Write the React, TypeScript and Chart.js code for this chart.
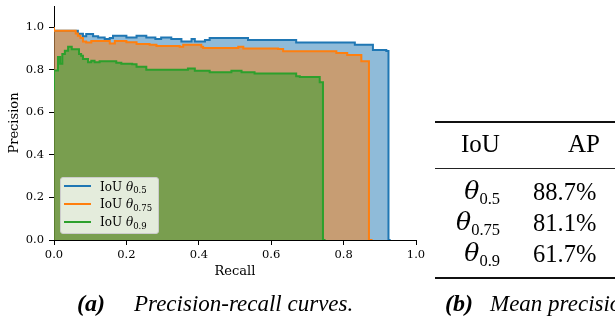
import React, { useEffect, useRef } from 'react';
import { Chart, registerables } from 'chart.js';

Chart.register(...registerables);

// ---- data ----
const seriesNames = ['0.5', '0.75', '0.9'];
const lineColors = ['#1f77b4', '#ff7f0e', '#2ca02c'];
const fillColors = ['rgba(31,119,180,0.5)', 'rgba(255,127,14,0.5)', 'rgba(44,160,44,0.5)'];

const recall50 = [0, 0.066, 0.08, 0.089, 0.108, 0.122, 0.14, 0.154, 0.163, 0.2, 0.228, 0.255, 0.28, 0.296, 0.324, 0.352, 0.38, 0.389, 0.417, 0.43, 0.536, 0.669, 0.831, 0.881, 0.918, 0.924, 0.93];
const precision50 = [1.0, 0.984, 0.97, 0.958, 0.968, 0.958, 0.952, 0.945, 0.95, 0.96, 0.952, 0.96, 0.952, 0.945, 0.952, 0.945, 0.933, 0.945, 0.933, 0.94, 0.95, 0.94, 0.929, 0.918, 0.893, 0.888, 0];

const recall75 = [0, 0.06, 0.066, 0.073, 0.08, 0.089, 0.103, 0.154, 0.168, 0.2, 0.228, 0.264, 0.283, 0.347, 0.357, 0.407, 0.412, 0.509, 0.523, 0.619, 0.633, 0.78, 0.81, 0.849, 0.87, 0.88];
const precision75 = [1.0, 0.984, 0.971, 0.96, 0.949, 0.933, 0.929, 0.936, 0.924, 0.936, 0.93, 0.921, 0.918, 0.912, 0.909, 0.918, 0.909, 0.902, 0.909, 0.9, 0.898, 0.887, 0.879, 0.87, 0.84, 0];

const recall90 = [0, 0.011, 0.017, 0.023, 0.03, 0.039, 0.049, 0.069, 0.075, 0.08, 0.094, 0.103, 0.112, 0.126, 0.172, 0.186, 0.216, 0.228, 0.255, 0.37, 0.389, 0.43, 0.49, 0.518, 0.554, 0.669, 0.679, 0.734, 0.743, 0.75];
const precision90 = [0.703, 0.797, 0.86, 0.828, 0.874, 0.89, 0.908, 0.897, 0.874, 0.866, 0.851, 0.836, 0.843, 0.836, 0.84, 0.833, 0.828, 0.826, 0.815, 0.8, 0.806, 0.796, 0.789, 0.796, 0.789, 0.783, 0.77, 0.766, 0.741, 0];

const xTickValues = [0, 0.2, 0.4, 0.6, 0.8, 1.0];
const yTickValues = [0, 0.2, 0.4, 0.6, 0.8, 1.0];

const tableHeader = ['IoU', 'AP'];
const apValues = ['88.7%', '81.1%', '61.7%'];

const recalls = [recall50, recall75, recall90];
const precisions = [precision50, precision75, precision90];

const SERIF = 'Liberation Serif';
const DJ = 'DejaVu Serif';

export default function App() {
  const ref = useRef<HTMLCanvasElement>(null);

  useEffect(() => {
    const canvas = ref.current!;
    const tickFont = { family: DJ, size: 11.5 };
    const labelFont = { family: DJ, size: 13 };
    const datasets = seriesNames.map((name, i) => ({
      label: 'IoU θ' + name,
      data: recalls[i].map((x, j) => ({ x, y: precisions[i][j] })),
      borderColor: lineColors[i],
      backgroundColor: fillColors[i],
      borderWidth: 2,
      pointRadius: 0,
      stepped: 'after' as const,
      fill: 'origin',
      order: 3 - i,
    }));
    const chart = new Chart(canvas, {
      type: 'line',
      data: { datasets },
      options: {
        responsive: false,
        animation: false,
        layout: { padding: { left: 0, top: 6, right: 199, bottom: 0 } },
        plugins: { legend: { display: false }, tooltip: { enabled: false } },
        scales: {
          x: {
            type: 'linear',
            min: 0,
            max: 1,
            afterBuildTicks: (s: any) => { s.ticks = xTickValues.map((v) => ({ value: v })); },
            afterFit: (s: any) => { s.height = 80; s.paddingLeft = 0; s.paddingRight = 0; },
            ticks: { font: tickFont, color: '#000', padding: 3, maxRotation: 0, autoSkip: false, callback: (v: any) => Number(v).toFixed(1) },
            grid: { display: true, drawOnChartArea: false, drawTicks: true, tickLength: 5, color: '#000', tickColor: '#000', lineWidth: 1 },
            border: { display: true, color: '#000', width: 1 },
            title: { display: true, text: 'Recall', font: labelFont, color: '#000', padding: { top: 0, bottom: 41 } },
          },
          y: {
            type: 'linear',
            min: 0,
            max: 1.1,
            afterBuildTicks: (s: any) => { s.ticks = yTickValues.map((v) => ({ value: v })); },
            afterFit: (s: any) => { s.width = 54; s.paddingTop = 0; s.paddingBottom = 0; },
            ticks: { font: tickFont, color: '#000', padding: 5, autoSkip: false, callback: (v: any) => Number(v).toFixed(1) },
            grid: { display: true, drawOnChartArea: false, drawTicks: true, tickLength: 5, color: '#000', tickColor: '#000', lineWidth: 1 },
            border: { display: true, color: '#000', width: 1 },
            title: { display: true, text: 'Precision', font: labelFont, color: '#000', padding: { top: 6.7, bottom: 0 } },
          },
        },
      } as any,
    });
    return () => chart.destroy();
  }, []);

  const legendLineY = [186, 203.5, 221.5];
  const rowBase = [200, 231, 262];

  return (
    <div style={{ position: 'absolute', left: 0, top: 0, width: 615, height: 320, background: '#fff', overflow: 'hidden' }}>
      <canvas ref={ref} width={615} height={320} style={{ position: 'absolute', left: 0, top: 0 }} />

      {/* legend */}
      <div style={{ position: 'absolute', left: 60, top: 177, width: 97, height: 55, background: 'rgba(255,255,255,0.8)', border: '1px solid #cccccc', borderRadius: 3 }} />
      {seriesNames.map((name, i) => (
        <React.Fragment key={name}>
          <div style={{ position: 'absolute', left: 64, top: legendLineY[i] - 1, width: 27, height: 2, background: lineColors[i] }} />
          <div style={{ position: 'absolute', left: 100, top: legendLineY[i] + 4.7 - 10.1, fontFamily: DJ, fontSize: 12, lineHeight: 1, whiteSpace: 'nowrap', color: '#000' }}>
            IoU <span style={{ fontStyle: 'italic' }}>θ</span>
            <span style={{ fontSize: 8.5, position: 'relative', top: 2.5 }}>{name}</span>
          </div>
        </React.Fragment>
      ))}

      {/* table */}
      <div style={{ position: 'absolute', left: 435, top: 121, width: 200, height: 2, background: '#111' }} />
      <div style={{ position: 'absolute', left: 461, top: 152.3 - 21, fontFamily: SERIF, fontSize: 25, lineHeight: 1, color: '#000' }}>{tableHeader[0]}</div>
      <div style={{ position: 'absolute', left: 568, top: 152.3 - 21, fontFamily: SERIF, fontSize: 25, lineHeight: 1, color: '#000' }}>{tableHeader[1]}</div>
      <div style={{ position: 'absolute', left: 435, top: 168, width: 200, height: 1, background: '#222' }} />
      {seriesNames.map((name, i) => (
        <React.Fragment key={'r' + name}>
          <div style={{ position: 'absolute', left: 0, width: 500, textAlign: 'right', top: rowBase[i] - 21.8, fontFamily: SERIF, fontSize: 26, lineHeight: 1, whiteSpace: 'nowrap', color: '#000' }}>
            <span style={{ fontStyle: 'italic', fontFamily: DJ, fontSize: 25 }}>θ</span>
            <span style={{ fontSize: 16.5, position: 'relative', top: 5 }}>{name}</span>
          </div>
          <div style={{ position: 'absolute', left: 533, top: rowBase[i] - 20.5, fontFamily: SERIF, fontSize: 24.5, lineHeight: 1, whiteSpace: 'nowrap', color: '#000' }}>
            {apValues[i]}
          </div>
        </React.Fragment>
      ))}
      <div style={{ position: 'absolute', left: 435, top: 277, width: 200, height: 2, background: '#111' }} />

      {/* captions */}
      <div style={{ position: 'absolute', left: 77, top: 311 - 20.1, fontFamily: SERIF, fontSize: 24, lineHeight: 1, whiteSpace: 'nowrap', fontStyle: 'italic', fontWeight: 'bold', color: '#000' }}>(a)</div>
      <div style={{ position: 'absolute', left: 134, top: 311 - 19.3, fontFamily: SERIF, fontSize: 23, lineHeight: 1, whiteSpace: 'nowrap', fontStyle: 'italic', color: '#000' }}>Precision-recall curves.</div>
      <div style={{ position: 'absolute', left: 445, top: 311 - 20.1, fontFamily: SERIF, fontSize: 24, lineHeight: 1, whiteSpace: 'nowrap', fontStyle: 'italic', fontWeight: 'bold', color: '#000' }}>(b)</div>
      <div style={{ position: 'absolute', left: 490, top: 311 - 19.3, fontFamily: SERIF, fontSize: 23, lineHeight: 1, whiteSpace: 'nowrap', fontStyle: 'italic', color: '#000' }}>Mean precision.</div>
    </div>
  );
}
